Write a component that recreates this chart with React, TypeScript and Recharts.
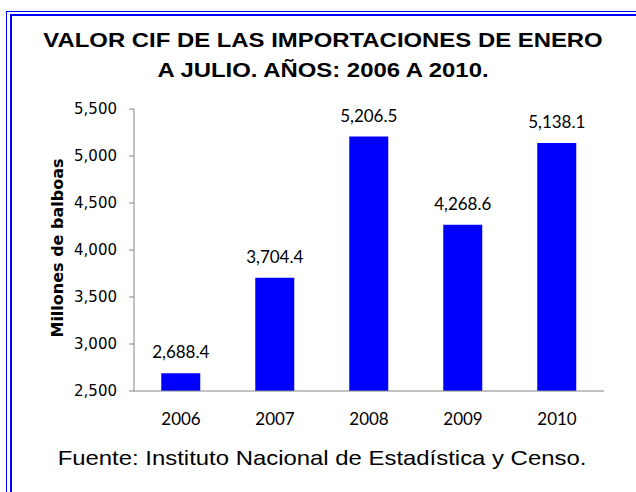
import React from "react";
import { BarChart, Bar, XAxis, YAxis, LabelList } from "recharts";

const years = ["2006", "2007", "2008", "2009", "2010"];
const cifValues = [2688.4, 3704.4, 5206.5, 4268.6, 5138.1];
const yTicks = [2500, 3000, 3500, 4000, 4500, 5000, 5500];
const edgeTicks = [0, 1, 2, 3, 4, 5];

const data = years.map((year, i) => ({ year, value: cifValues[i] }));

const BLUE = "#0000FF";
const AXIS = "#868686";

const fmtTick = (v: number) => v.toLocaleString("en-US");
const fmtLabel = (v: any) =>
  Number(v).toLocaleString("en-US", { minimumFractionDigits: 1, maximumFractionDigits: 1 });

const YLabel = (props: any) => {
  const { viewBox } = props;
  const cx = viewBox.x + 57;
  const cy = viewBox.y + viewBox.height / 2 - 2;
  return (
    <text
      x={cx}
      y={cy}
      transform={`rotate(-90 ${cx} ${cy})`}
      textAnchor="middle"
      dominantBaseline="central"
      fontFamily="'DejaVu Sans', Verdana, sans-serif"
      fontWeight="bold"
      fontSize={16}
      fill="#000"
    >
      Millones de balboas
    </text>
  );
};

export default function App() {
  return (
    <div
      style={{
        position: "absolute",
        left: 0,
        top: 0,
        width: 636,
        height: 492,
        background: "#fff",
        overflow: "hidden",
      }}
    >
      {/* double frame, only top and left edges fall inside the picture */}
      <div style={{ position: "absolute", left: 6, top: 11, width: 700, height: 600, border: `1px solid ${BLUE}` }} />
      <div style={{ position: "absolute", left: 10, top: 14, width: 700, height: 600, border: `2px solid ${BLUE}` }} />

      <div
        style={{
          position: "absolute",
          left: 0,
          top: 25,
          width: 646,
          textAlign: "center",
          fontFamily: "'Liberation Sans', Arial, sans-serif",
          fontWeight: "bold",
          fontSize: 21,
          lineHeight: "30px",
          color: "#000",
          transform: "scaleX(1.138)",
          transformOrigin: "center",
        }}
      >
        VALOR CIF DE LAS IMPORTACIONES DE ENERO
        <br />
        A JULIO. AÑOS: 2006 A 2010.
      </div>

      <div style={{ position: "absolute", left: 0, top: 0 }}>
        <BarChart
          width={636}
          height={492}
          data={data}
          margin={{ top: 109, right: 32, bottom: 61, left: 0 }}
          barCategoryGap="29%"
        >
          <XAxis
            xAxisId="edge"
            type="number"
            domain={[0, 5]}
            ticks={edgeTicks}
            allowDataOverflow
            height={0}
            axisLine={false}
            tick={false}
            tickLine={{ stroke: AXIS }}
            tickSize={5}
          />
          <XAxis
            xAxisId="cat"
            dataKey="year"
            height={40}
            axisLine={{ stroke: AXIS }}
            tickLine={false}
            tickSize={0}
            tickMargin={22}
            tick={{ fontFamily: "Lato, sans-serif", fontSize: 17, fill: "#000" }}
          />
          <YAxis
            width={134}
            domain={[2500, 5500]}
            ticks={yTicks}
            interval={0}
            tickFormatter={fmtTick}
            axisLine={{ stroke: AXIS }}
            tickLine={{ stroke: AXIS }}
            tickSize={5}
            tickMargin={12}
            tick={{ fontFamily: "'DejaVu Sans', Verdana, sans-serif", fontSize: 15, fill: "#000" }}
            label={YLabel}
          />
          <Bar dataKey="value" xAxisId="cat" fill={BLUE} isAnimationActive={false}>
            <LabelList
              dataKey="value"
              position="top"
              offset={15}
              formatter={fmtLabel}
              style={{ fontFamily: "Lato, sans-serif", fontSize: 17, fill: "#000" }}
            />
          </Bar>
        </BarChart>
      </div>

      <div
        style={{
          position: "absolute",
          left: 0,
          top: 443,
          width: 644,
          textAlign: "center",
          fontFamily: "'Liberation Sans', Arial, sans-serif",
          fontSize: 21,
          lineHeight: "30px",
          color: "#000",
          transform: "scaleX(1.138)",
          transformOrigin: "center",
        }}
      >
        Fuente: Instituto Nacional de Estadística y Censo.
      </div>
    </div>
  );
}
